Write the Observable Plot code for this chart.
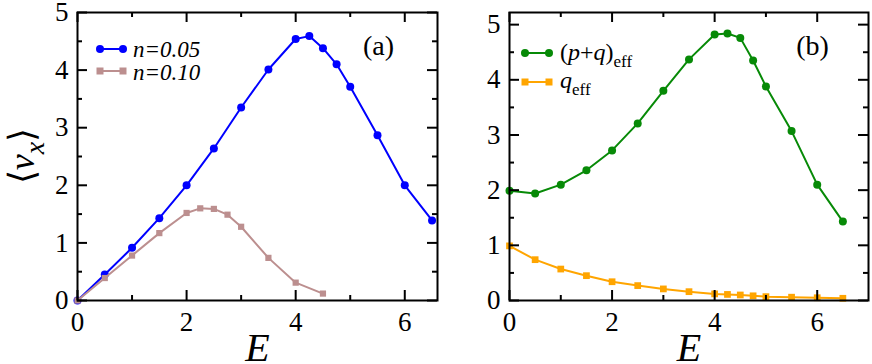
<!DOCTYPE html>
<html>
<head>
<meta charset="utf-8">
<script src="https://cdn.jsdelivr.net/npm/d3@7"></script>
<script src="https://cdn.jsdelivr.net/npm/@observablehq/plot@0.6"></script>
<style>
  body { margin: 0; background: white; font-family: 'Liberation Serif', serif; }
  #wrap { display: flex; width: 872px; height: 364px; }
</style>
</head>
<body>
<div id="wrap"></div>
<script>
// ---- data ----
const E_a1 = [0, 0.5, 1, 1.5, 2, 2.5, 3, 3.5, 4, 4.25, 4.5, 4.75, 5, 5.5, 6, 6.5];
const v_n005 = [0, 0.45, 0.915, 1.43, 2.0, 2.64, 3.35, 4.01, 4.54, 4.59, 4.38, 4.10, 3.71, 2.87, 2.0, 1.39];
const E_a2 = [0, 0.5, 1, 1.5, 2, 2.25, 2.5, 2.75, 3, 3.5, 4, 4.5];
const v_n010 = [0, 0.39, 0.78, 1.17, 1.52, 1.60, 1.59, 1.49, 1.28, 0.74, 0.31, 0.12];
const E_b = [0, 0.5, 1, 1.5, 2, 2.5, 3, 3.5, 4, 4.25, 4.5, 4.75, 5, 5.5, 6, 6.5];
const pq_eff = [1.99, 1.94, 2.10, 2.36, 2.72, 3.21, 3.80, 4.37, 4.82, 4.84, 4.76, 4.35, 3.88, 3.07, 2.10, 1.43];
const q_eff = [0.99, 0.74, 0.57, 0.45, 0.34, 0.27, 0.21, 0.16, 0.12, 0.11, 0.10, 0.085, 0.07, 0.06, 0.05, 0.04];
const xMajor = [0, 2, 4, 6];
const xMinor = [1, 3, 5];
const yMajor = [0, 1, 2, 3, 4, 5];
const yMinor = [0.5, 1.5, 2.5, 3.5, 4.5];
const legendA = ["n=0.05", "n=0.10"];
const panelLabels = ["(a)", "(b)"];

const toRows = (xs, ys) => xs.map((x, i) => ({x, y: ys[i]}));

const FONT = "'Liberation Serif', serif";
const fmt = d3.format("d");
const H = 364, MT = 12, MB = 64;

function frameTicks(fw, fh) {
  const MAJ = 10, MIN = 5, sw = 2;
  return [
    Plot.ruleX(xMajor, {insetTop: fh - MAJ, strokeWidth: sw, stroke: "#000"}),
    Plot.ruleX(xMinor, {insetTop: fh - MIN, strokeWidth: sw, stroke: "#000"}),
    Plot.ruleX(xMajor, {insetBottom: fh - MAJ, strokeWidth: sw, stroke: "#000"}),
    Plot.ruleX(xMinor, {insetBottom: fh - MIN, strokeWidth: sw, stroke: "#000"}),
    Plot.ruleY(yMajor, {insetRight: fw - MAJ, strokeWidth: sw, stroke: "#000"}),
    Plot.ruleY(yMinor, {insetRight: fw - MIN, strokeWidth: sw, stroke: "#000"}),
    Plot.ruleY(yMajor, {insetLeft: fw - MAJ, strokeWidth: sw, stroke: "#000"}),
    Plot.ruleY(yMinor, {insetLeft: fw - MIN, strokeWidth: sw, stroke: "#000"})
  ];
}

function makePlot({width, marginLeft, marginRight, xDomain, yDomain, series, panel}) {
  const fw = width - marginLeft - marginRight, fh = H - MT - MB;
  const marks = [];
  for (const s of series) {
    marks.push(Plot.line(s.data, {x: "x", y: "y", stroke: s.color, strokeWidth: 2}));
    marks.push(Plot.dot(s.data, {x: "x", y: "y", fill: s.color, stroke: "none", r: s.r, symbol: s.symbol}));
  }
  marks.push(...frameTicks(fw, fh));
  marks.push(Plot.axisX(xMajor, {anchor: "bottom", tickSize: 0, tickPadding: 11, fontSize: 27, tickFormat: fmt, label: null, fontFamily: FONT}));
  marks.push(Plot.axisY(yMajor, {anchor: "left", tickSize: 0, tickPadding: 9, fontSize: 27, tickFormat: fmt, label: null, fontFamily: FONT}));
  marks.push(Plot.frame({strokeWidth: 2}));
  marks.push(Plot.text([panel.label], {frameAnchor: "top-right", dx: panel.dx, dy: 34, textAnchor: "middle", lineAnchor: "middle", fontSize: 28, fontFamily: FONT}));
  marks.push(Plot.text(["E"], {frameAnchor: "bottom", dy: 60, lineAnchor: "bottom", fontSize: 40, fontStyle: "italic", fontFamily: FONT}));
  return Plot.plot({
    width, height: H,
    marginLeft, marginRight, marginTop: MT, marginBottom: MB,
    x: {domain: xDomain},
    y: {domain: yDomain},
    style: {fontFamily: FONT, background: "white", overflow: "visible", color: "black"},
    marks
  });
}

const wrap = document.getElementById("wrap");

const pa = makePlot({
  width: 440, marginLeft: 77, marginRight: 3,
  xDomain: [0, 6.6], yDomain: [0, 5],
  series: [
    {data: toRows(E_a1, v_n005), color: "#0000ff", r: 4, symbol: "circle"},
    {data: toRows(E_a2, v_n010), color: "#bc8f8f", r: 3.5, symbol: "square"}
  ],
  panel: {label: panelLabels[0], dx: -59}
});
const pb = makePlot({
  width: 432, marginLeft: 69, marginRight: 4,
  xDomain: [0, 7], yDomain: [0, 5.22],
  series: [
    {data: toRows(E_b, pq_eff), color: "#078a07", r: 4, symbol: "circle"},
    {data: toRows(E_b, q_eff), color: "#ffa500", r: 3.8, symbol: "square"}
  ],
  panel: {label: panelLabels[1], dx: -56}
});
wrap.appendChild(pa);
wrap.appendChild(pb);

// y label on panel (a)
const sa = d3.select(pa);
const yl = sa.append("text")
  .attr("transform", "translate(34,156) rotate(-90)")
  .attr("text-anchor", "middle")
  .attr("font-size", 36)
  .attr("fill", "black");
yl.append("tspan").text("\u27E8");
yl.append("tspan").attr("font-style", "italic").text("v");
yl.append("tspan").attr("font-style", "italic").attr("font-size", 28).attr("dy", 10).text("x");
yl.append("tspan").attr("dy", -10).text("\u27E9");

// legends
function legendRow(svg, y, color, symbol, x0, x1) {
  svg.append("line").attr("x1", x0).attr("x2", x1).attr("y1", y).attr("y2", y)
    .attr("stroke", color).attr("stroke-width", 2);
  for (const x of [x0, x1]) {
    if (symbol === "circle") svg.append("circle").attr("cx", x).attr("cy", y).attr("r", 4).attr("fill", color);
    else svg.append("rect").attr("x", x - 3.5).attr("y", y - 3.5).attr("width", 7).attr("height", 7).attr("fill", color);
  }
}
legendRow(sa, 49, "#0000ff", "circle", 100, 123);
legendRow(sa, 71, "#bc8f8f", "square", 100, 123);
sa.append("text").attr("x", 133).attr("y", 49).attr("dy", "0.35em").attr("text-anchor", "start")
  .attr("font-size", 23).attr("font-style", "italic").text(legendA[0]);
sa.append("text").attr("x", 133).attr("y", 72).attr("dy", "0.35em").attr("text-anchor", "start")
  .attr("font-size", 23).attr("font-style", "italic").text(legendA[1]);

const sb = d3.select(pb);
legendRow(sb, 53, "#078a07", "circle", 85, 109);
legendRow(sb, 82, "#ffa500", "square", 85, 109);
const t1 = sb.append("text").attr("x", 120).attr("y", 52).attr("dy", "0.35em").attr("text-anchor", "start")
  .attr("font-size", 24);
t1.append("tspan").text("(");
t1.append("tspan").attr("font-style", "italic").text("p");
t1.append("tspan").text("+");
t1.append("tspan").attr("font-style", "italic").text("q");
t1.append("tspan").text(")");
t1.append("tspan").attr("font-size", 17).attr("dy", 7).text("eff");
const t2 = sb.append("text").attr("x", 120).attr("y", 80).attr("dy", "0.35em").attr("text-anchor", "start")
  .attr("font-size", 24);
t2.append("tspan").attr("font-style", "italic").text("q");
t2.append("tspan").attr("font-size", 17).attr("dy", 7).text("eff");

d3.selectAll("#wrap svg text, #wrap svg tspan").style("font-family", FONT);
</script>
</body>
</html>
